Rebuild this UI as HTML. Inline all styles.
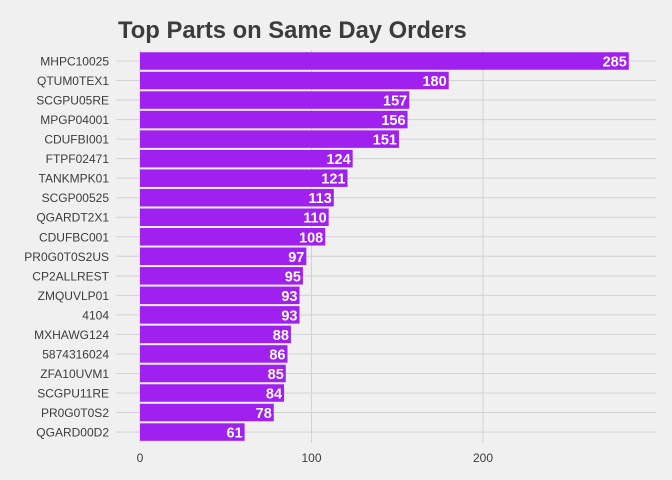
<!DOCTYPE html>
<html><head><meta charset="utf-8"><style>
html,body{margin:0;padding:0;background:#f0f0f0;}
svg{display:block;font-family:"Liberation Sans",sans-serif;}
</style></head><body>
<svg id="chart" width="672" height="480" xmlns="http://www.w3.org/2000/svg">
<rect x="0" y="0" width="672" height="480" fill="#f0f0f0"/>
<text x="118" y="38" font-size="23.8" font-weight="bold" fill="#3c3c3c">Top Parts on Same Day Orders</text>
<g id="grid"></g><g id="bars"></g><g id="labels"></g>
</svg>
<script>
const categories = ["MHPC10025","QTUM0TEX1","SCGPU05RE","MPGP04001","CDUFBI001","FTPF02471","TANKMPK01","SCGP00525","QGARDT2X1","CDUFBC001","PR0G0T0S2US","CP2ALLREST","ZMQUVLP01","4104","MXHAWG124","5874316024","ZFA10UVM1","SCGPU11RE","PR0G0T0S2","QGARD00D2"];
const values = [285,180,157,156,151,124,121,113,110,108,97,95,93,93,88,86,85,84,78,61];
const xTicks = [0,100,200];
const NS="http://www.w3.org/2000/svg";
const x0=140, pxPer=1.715, y0=61, step=19.53, bh=17.5;
const xs=v=>x0+v*pxPer, ys=i=>y0+i*step;
function mk(tag,attrs,parent){const e=document.createElementNS(NS,tag);for(const k in attrs)e.setAttribute(k,attrs[k]);parent.appendChild(e);return e;}
const grid=document.getElementById('grid'),bars=document.getElementById('bars'),labels=document.getElementById('labels');
xTicks.forEach(t=>{
  const l=mk('line',{x1:xs(t),x2:xs(t),y1:50,y2:443,stroke:'#d2d2d2','stroke-width':1},grid);
  
  
  const tx=mk('text',{x:xs(t),y:462,'text-anchor':'middle','font-size':12,fill:'#3c3c3c'},labels);
  tx.textContent=t;
  
  
});
categories.forEach((c,i)=>{
  const y=ys(i);
  const g=mk('line',{x1:116,x2:656,y1:y,y2:y,stroke:'#d2d2d2','stroke-width':1},grid);
  
  
  const r=mk('rect',{x:x0,y:y-bh/2,width:xs(values[i])-x0,height:bh,fill:'#a020f0'},bars);
  
  
  const v=mk('text',{x:xs(values[i])-2,y:y+5.5,'text-anchor':'end','font-size':14.5,'font-weight':'bold',fill:'#fff'},labels);
  v.textContent=values[i];
  
  
  const t=mk('text',{x:109,y:y+4.5,'text-anchor':'end','font-size':12,fill:'#3c3c3c'},labels);
  t.textContent=c;
  
  
});
</script>
</body></html>
